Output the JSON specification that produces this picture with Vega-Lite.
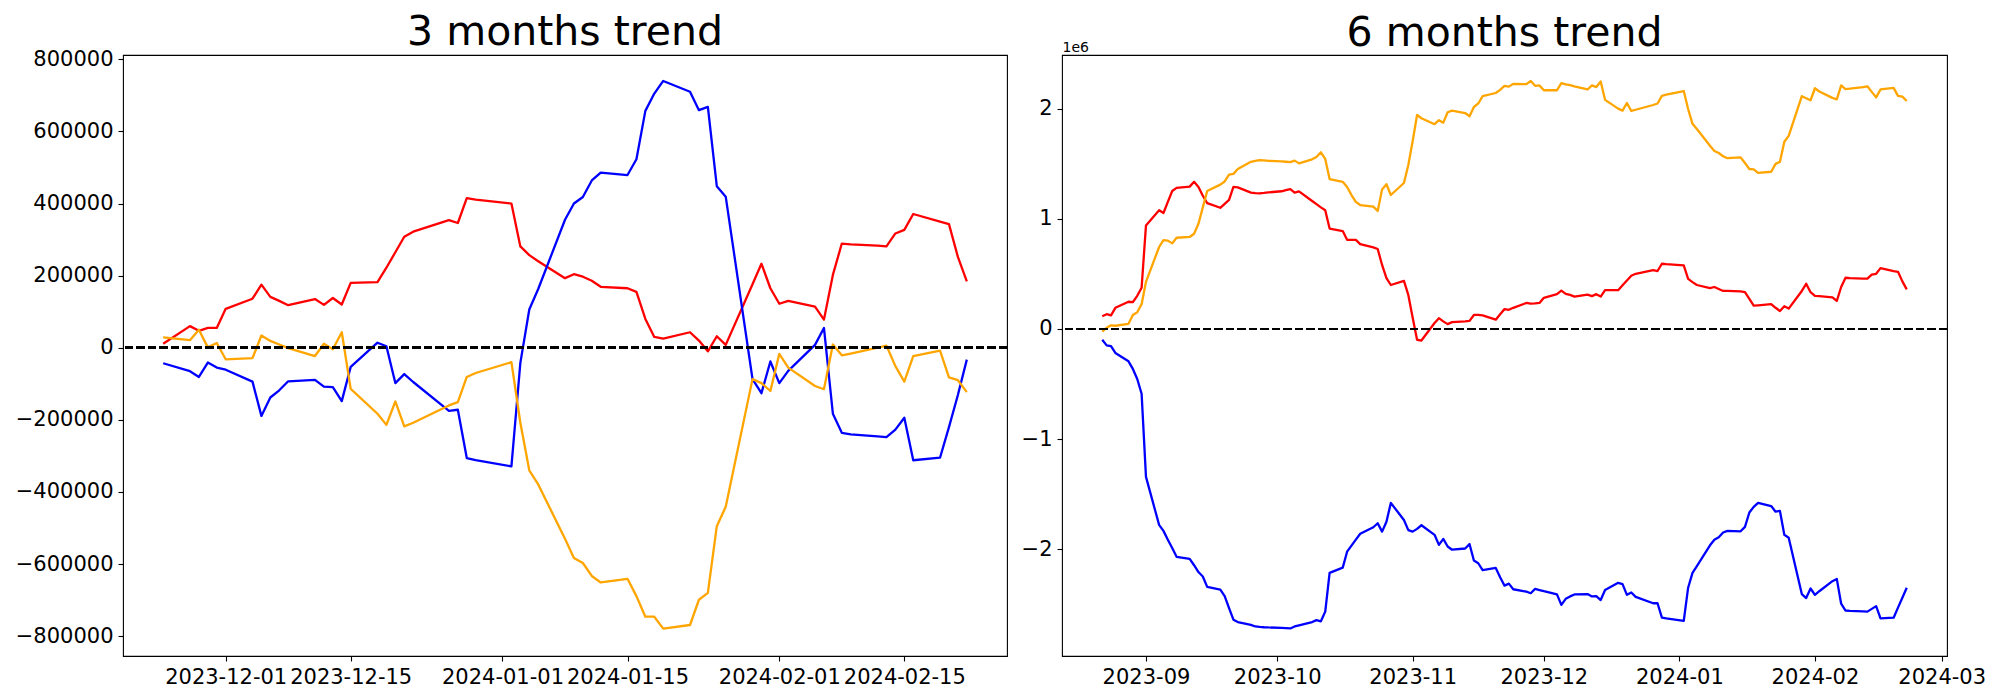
{
  "$schema": "https://vega.github.io/schema/vega-lite/v6.json",
  "background": "white",
  "padding": {"left": 14, "top": 11, "right": 5, "bottom": 5},
  "spacing": 55,
  "bounds": "flush",
  "config": {
    "font": "DejaVu Sans",
    "view": {"stroke": "black", "strokeWidth": 1.1},
    "axis": {"domain": false, "grid": false, "tickColor": "black", "tickSize": 5, "tickWidth": 1.1, "labelFontSize": 21, "labelFont": "DejaVu Sans", "labelColor": "black", "labelPadding": 5},
    "title": {"fontSize": 41, "font": "DejaVu Sans", "fontWeight": "normal", "color": "black", "anchor": "middle"}
  },
  "datasets": {
    "m3": [
      {"date":"2023-11-24","red":11000,"blue":-43000,"orange":29000},
      {"date":"2023-11-27","red":60000,"blue":-65000,"orange":21000},
      {"date":"2023-11-28","red":47000,"blue":-81000,"orange":50000},
      {"date":"2023-11-29","red":55000,"blue":-41000,"orange":1000},
      {"date":"2023-11-30","red":55000,"blue":-55000,"orange":13000},
      {"date":"2023-12-01","red":108000,"blue":-61000,"orange":-32000},
      {"date":"2023-12-04","red":136000,"blue":-94000,"orange":-29000},
      {"date":"2023-12-05","red":175000,"blue":-189000,"orange":34000},
      {"date":"2023-12-06","red":141000,"blue":-138000,"orange":19000},
      {"date":"2023-12-07","red":130000,"blue":-118000,"orange":9000},
      {"date":"2023-12-08","red":118000,"blue":-93000,"orange":-1000},
      {"date":"2023-12-11","red":135000,"blue":-89000,"orange":-23000},
      {"date":"2023-12-12","red":119000,"blue":-108000,"orange":11000},
      {"date":"2023-12-13","red":138000,"blue":-109000,"orange":-4000},
      {"date":"2023-12-14","red":120000,"blue":-148000,"orange":43000},
      {"date":"2023-12-15","red":180000,"blue":-53000,"orange":-114000},
      {"date":"2023-12-18","red":182000,"blue":14000,"orange":-183000},
      {"date":"2023-12-19","red":222000,"blue":4000,"orange":-214000},
      {"date":"2023-12-20","red":265000,"blue":-98000,"orange":-149000},
      {"date":"2023-12-21","red":308000,"blue":-73000,"orange":-218000},
      {"date":"2023-12-22","red":322000,"blue":-95000,"orange":-208000},
      {"date":"2023-12-26","red":354000,"blue":-175000,"orange":-160000},
      {"date":"2023-12-27","red":346000,"blue":-172000,"orange":-151000},
      {"date":"2023-12-28","red":415000,"blue":-306000,"orange":-81000},
      {"date":"2023-12-29","red":411000,"blue":-312000,"orange":-70000},
      {"date":"2024-01-02","red":400000,"blue":-329000,"orange":-40000},
      {"date":"2024-01-03","red":281000,"blue":-42000,"orange":-208000},
      {"date":"2024-01-04","red":257000,"blue":106000,"orange":-340000},
      {"date":"2024-01-05","red":240000,"blue":163000,"orange":-379000},
      {"date":"2024-01-08","red":193000,"blue":355000,"orange":-530000},
      {"date":"2024-01-09","red":204000,"blue":400000,"orange":-583000},
      {"date":"2024-01-10","red":197000,"blue":418000,"orange":-597000},
      {"date":"2024-01-11","red":186000,"blue":464000,"orange":-633000},
      {"date":"2024-01-12","red":169000,"blue":486000,"orange":-651000},
      {"date":"2024-01-15","red":165000,"blue":479000,"orange":-641000},
      {"date":"2024-01-16","red":155000,"blue":523000,"orange":-689000},
      {"date":"2024-01-17","red":80000,"blue":657000,"orange":-746000},
      {"date":"2024-01-18","red":30000,"blue":705000,"orange":-746000},
      {"date":"2024-01-19","red":25500,"blue":740000,"orange":-779000},
      {"date":"2024-01-22","red":43000,"blue":710000,"orange":-769000},
      {"date":"2024-01-23","red":20000,"blue":659000,"orange":-699000},
      {"date":"2024-01-24","red":-10000,"blue":668000,"orange":-680000},
      {"date":"2024-01-25","red":32000,"blue":448000,"orange":-495000},
      {"date":"2024-01-26","red":8000,"blue":419000,"orange":-441000},
      {"date":"2024-01-29","red":176000,"blue":-87000,"orange":-87000},
      {"date":"2024-01-30","red":233000,"blue":-126000,"orange":-98000},
      {"date":"2024-01-31","red":165000,"blue":-38000,"orange":-120000},
      {"date":"2024-02-01","red":122000,"blue":-98000,"orange":-17000},
      {"date":"2024-02-02","red":130000,"blue":-64000,"orange":-55000},
      {"date":"2024-02-05","red":114000,"blue":8000,"orange":-106000},
      {"date":"2024-02-06","red":78000,"blue":55000,"orange":-115000},
      {"date":"2024-02-07","red":202000,"blue":-183000,"orange":9000},
      {"date":"2024-02-08","red":289000,"blue":-236000,"orange":-21000},
      {"date":"2024-02-09","red":287000,"blue":-240000,"orange":-16000},
      {"date":"2024-02-12","red":283000,"blue":-246000,"orange":0},
      {"date":"2024-02-13","red":281000,"blue":-248000,"orange":6000},
      {"date":"2024-02-14","red":317000,"blue":-227000,"orange":-51000},
      {"date":"2024-02-15","red":327000,"blue":-194000,"orange":-94000},
      {"date":"2024-02-16","red":371000,"blue":-312000,"orange":-23000},
      {"date":"2024-02-19","red":350000,"blue":-305000,"orange":-8000},
      {"date":"2024-02-20","red":343000,"blue":-220000,"orange":-82000},
      {"date":"2024-02-21","red":252000,"blue":-131000,"orange":-90000},
      {"date":"2024-02-22","red":184000,"blue":-33000,"orange":-123000}
    ],
    "m6": [
      {"date":"2023-08-22","red":116000,"blue":-98000,"orange":-25000},
      {"date":"2023-08-23","red":134000,"blue":-149000,"orange":11000},
      {"date":"2023-08-24","red":123000,"blue":-156000,"orange":33000},
      {"date":"2023-08-25","red":192000,"blue":-218000,"orange":29000},
      {"date":"2023-08-28","red":247000,"blue":-294000,"orange":47000},
      {"date":"2023-08-29","red":243000,"blue":-363000,"orange":127000},
      {"date":"2023-08-30","red":301000,"blue":-454000,"orange":152000},
      {"date":"2023-08-31","red":374000,"blue":-588000,"orange":225000},
      {"date":"2023-09-01","red":940000,"blue":-1343000,"orange":428000},
      {"date":"2023-09-04","red":1078000,"blue":-1779000,"orange":744000},
      {"date":"2023-09-05","red":1053000,"blue":-1833000,"orange":806000},
      {"date":"2023-09-06","red":1154000,"blue":-1913000,"orange":802000},
      {"date":"2023-09-07","red":1252000,"blue":-1989000,"orange":777000},
      {"date":"2023-09-08","red":1281000,"blue":-2069000,"orange":828000},
      {"date":"2023-09-11","red":1292000,"blue":-2087000,"orange":835000},
      {"date":"2023-09-12","red":1336000,"blue":-2145000,"orange":864000},
      {"date":"2023-09-13","red":1289000,"blue":-2207000,"orange":955000},
      {"date":"2023-09-14","red":1209000,"blue":-2247000,"orange":1104000},
      {"date":"2023-09-15","red":1143000,"blue":-2341000,"orange":1252000},
      {"date":"2023-09-18","red":1100000,"blue":-2367000,"orange":1310000},
      {"date":"2023-09-19","red":1136000,"blue":-2425000,"orange":1339000},
      {"date":"2023-09-20","red":1172000,"blue":-2534000,"orange":1401000},
      {"date":"2023-09-21","red":1289000,"blue":-2639000,"orange":1408000},
      {"date":"2023-09-22","red":1285000,"blue":-2661000,"orange":1452000},
      {"date":"2023-09-25","red":1238000,"blue":-2687000,"orange":1517000},
      {"date":"2023-09-26","red":1234000,"blue":-2701000,"orange":1525000},
      {"date":"2023-09-27","red":1231000,"blue":-2705000,"orange":1532000},
      {"date":"2023-09-28","red":1235000,"blue":-2708000,"orange":1530000},
      {"date":"2023-09-29","red":1240000,"blue":-2710000,"orange":1526000},
      {"date":"2023-10-02","red":1250000,"blue":-2713000,"orange":1522000},
      {"date":"2023-10-03","red":1260000,"blue":-2716000,"orange":1518000},
      {"date":"2023-10-04","red":1270000,"blue":-2719000,"orange":1514000},
      {"date":"2023-10-05","red":1238000,"blue":-2701000,"orange":1528000},
      {"date":"2023-10-06","red":1249000,"blue":-2690000,"orange":1503000},
      {"date":"2023-10-09","red":1162000,"blue":-2661000,"orange":1540000},
      {"date":"2023-10-10","red":1133000,"blue":-2643000,"orange":1561000},
      {"date":"2023-10-11","red":1104000,"blue":-2654000,"orange":1604000},
      {"date":"2023-10-12","red":1078000,"blue":-2566000,"orange":1543000},
      {"date":"2023-10-13","red":911000,"blue":-2214000,"orange":1361000},
      {"date":"2023-10-16","red":889000,"blue":-2167000,"orange":1336000},
      {"date":"2023-10-17","red":809000,"blue":-2022000,"orange":1289000},
      {"date":"2023-10-18","red":809000,"blue":-1967000,"orange":1216000},
      {"date":"2023-10-19","red":809000,"blue":-1913000,"orange":1154000},
      {"date":"2023-10-20","red":770000,"blue":-1859000,"orange":1125000},
      {"date":"2023-10-23","red":741000,"blue":-1800000,"orange":1111000},
      {"date":"2023-10-24","red":726000,"blue":-1764000,"orange":1071000},
      {"date":"2023-10-25","red":581000,"blue":-1840000,"orange":1267000},
      {"date":"2023-10-26","red":461000,"blue":-1750000,"orange":1314000},
      {"date":"2023-10-27","red":399000,"blue":-1579000,"orange":1216000},
      {"date":"2023-10-30","red":436000,"blue":-1735000,"orange":1325000},
      {"date":"2023-10-31","red":309000,"blue":-1826000,"orange":1488000},
      {"date":"2023-11-01","red":102000,"blue":-1840000,"orange":1706000},
      {"date":"2023-11-02","red":-98000,"blue":-1815000,"orange":1942000},
      {"date":"2023-11-03","red":-105000,"blue":-1782000,"orange":1913000},
      {"date":"2023-11-06","red":54000,"blue":-1869000,"orange":1859000},
      {"date":"2023-11-07","red":98000,"blue":-1960000,"orange":1895000},
      {"date":"2023-11-08","red":69000,"blue":-1906000,"orange":1873000},
      {"date":"2023-11-09","red":44000,"blue":-1975000,"orange":1967000},
      {"date":"2023-11-10","red":62000,"blue":-2004000,"orange":1982000},
      {"date":"2023-11-13","red":69000,"blue":-1993000,"orange":1960000},
      {"date":"2023-11-14","red":73000,"blue":-1953000,"orange":1931000},
      {"date":"2023-11-15","red":127000,"blue":-2102000,"orange":2015000},
      {"date":"2023-11-16","red":127000,"blue":-2127000,"orange":2047000},
      {"date":"2023-11-17","red":123000,"blue":-2189000,"orange":2113000},
      {"date":"2023-11-20","red":84000,"blue":-2170000,"orange":2142000},
      {"date":"2023-11-21","red":134000,"blue":-2254000,"orange":2171000},
      {"date":"2023-11-22","red":180000,"blue":-2330000,"orange":2207000},
      {"date":"2023-11-23","red":174000,"blue":-2312000,"orange":2200000},
      {"date":"2023-11-24","red":192000,"blue":-2363000,"orange":2225000},
      {"date":"2023-11-27","red":236000,"blue":-2385000,"orange":2222000},
      {"date":"2023-11-28","red":229000,"blue":-2399000,"orange":2251000},
      {"date":"2023-11-29","red":232000,"blue":-2360000,"orange":2207000},
      {"date":"2023-11-30","red":236000,"blue":-2370000,"orange":2211000},
      {"date":"2023-12-01","red":283000,"blue":-2381000,"orange":2167000},
      {"date":"2023-12-04","red":316000,"blue":-2410000,"orange":2167000},
      {"date":"2023-12-05","red":348000,"blue":-2505000,"orange":2232000},
      {"date":"2023-12-06","red":319000,"blue":-2450000,"orange":2221000},
      {"date":"2023-12-07","red":309000,"blue":-2428000,"orange":2214000},
      {"date":"2023-12-08","red":294000,"blue":-2410000,"orange":2203000},
      {"date":"2023-12-11","red":312000,"blue":-2407000,"orange":2174000},
      {"date":"2023-12-12","red":298000,"blue":-2428000,"orange":2211000},
      {"date":"2023-12-13","red":316000,"blue":-2425000,"orange":2196000},
      {"date":"2023-12-14","red":294000,"blue":-2461000,"orange":2247000},
      {"date":"2023-12-15","red":352000,"blue":-2370000,"orange":2080000},
      {"date":"2023-12-18","red":352000,"blue":-2305000,"orange":2000000},
      {"date":"2023-12-19","red":396000,"blue":-2316000,"orange":1982000},
      {"date":"2023-12-20","red":439000,"blue":-2414000,"orange":2051000},
      {"date":"2023-12-21","red":483000,"blue":-2392000,"orange":1979000},
      {"date":"2023-12-22","red":501000,"blue":-2432000,"orange":1990000},
      {"date":"2023-12-26","red":534000,"blue":-2490000,"orange":2033000},
      {"date":"2023-12-27","red":526000,"blue":-2490000,"orange":2047000},
      {"date":"2023-12-28","red":592000,"blue":-2621000,"orange":2116000},
      {"date":"2023-12-29","red":588000,"blue":-2628000,"orange":2127000},
      {"date":"2024-01-02","red":577000,"blue":-2650000,"orange":2160000},
      {"date":"2024-01-03","red":454000,"blue":-2349000,"orange":1997000},
      {"date":"2024-01-04","red":425000,"blue":-2214000,"orange":1862000},
      {"date":"2024-01-05","red":399000,"blue":-2153000,"orange":1815000},
      {"date":"2024-01-08","red":370000,"blue":-1964000,"orange":1663000},
      {"date":"2024-01-09","red":381000,"blue":-1913000,"orange":1615000},
      {"date":"2024-01-10","red":363000,"blue":-1891000,"orange":1597000},
      {"date":"2024-01-11","red":345000,"blue":-1848000,"orange":1568000},
      {"date":"2024-01-12","red":345000,"blue":-1833000,"orange":1550000},
      {"date":"2024-01-15","red":341000,"blue":-1837000,"orange":1558000},
      {"date":"2024-01-16","red":334000,"blue":-1797000,"orange":1506000},
      {"date":"2024-01-17","red":272000,"blue":-1666000,"orange":1452000},
      {"date":"2024-01-18","red":211000,"blue":-1615000,"orange":1448000},
      {"date":"2024-01-19","red":214000,"blue":-1579000,"orange":1416000},
      {"date":"2024-01-22","red":225000,"blue":-1608000,"orange":1427000},
      {"date":"2024-01-23","red":192000,"blue":-1659000,"orange":1499000},
      {"date":"2024-01-24","red":163000,"blue":-1652000,"orange":1517000},
      {"date":"2024-01-25","red":207000,"blue":-1869000,"orange":1699000},
      {"date":"2024-01-26","red":185000,"blue":-1895000,"orange":1753000},
      {"date":"2024-01-29","red":345000,"blue":-2407000,"orange":2113000},
      {"date":"2024-01-30","red":410000,"blue":-2443000,"orange":2094000},
      {"date":"2024-01-31","red":334000,"blue":-2356000,"orange":2076000},
      {"date":"2024-02-01","red":301000,"blue":-2414000,"orange":2185000},
      {"date":"2024-02-02","red":298000,"blue":-2381000,"orange":2156000},
      {"date":"2024-02-05","red":287000,"blue":-2290000,"orange":2098000},
      {"date":"2024-02-06","red":254000,"blue":-2269000,"orange":2084000},
      {"date":"2024-02-07","red":381000,"blue":-2494000,"orange":2211000},
      {"date":"2024-02-08","red":465000,"blue":-2556000,"orange":2178000},
      {"date":"2024-02-09","red":461000,"blue":-2559000,"orange":2181000},
      {"date":"2024-02-12","red":457000,"blue":-2563000,"orange":2196000},
      {"date":"2024-02-13","red":457000,"blue":-2566000,"orange":2203000},
      {"date":"2024-02-14","red":494000,"blue":-2541000,"orange":2152000},
      {"date":"2024-02-15","red":501000,"blue":-2516000,"orange":2102000},
      {"date":"2024-02-16","red":552000,"blue":-2628000,"orange":2174000},
      {"date":"2024-02-19","red":526000,"blue":-2621000,"orange":2189000},
      {"date":"2024-02-20","red":519000,"blue":-2530000,"orange":2116000},
      {"date":"2024-02-21","red":432000,"blue":-2440000,"orange":2109000},
      {"date":"2024-02-22","red":359000,"blue":-2349000,"orange":2069000}
    ]
  },
  "hconcat": [
    {
      "width": 884,
      "height": 601,
      "title": {"text": "3 months trend", "offset": -6},
      "data": {"name": "m3"},
      "transform": [{"fold": ["red", "blue", "orange"], "as": ["series", "value"]}],
      "layer": [
        {
          "mark": {"type": "line", "strokeWidth": 2.3, "strokeJoin": "round"},
          "encoding": {
            "x": {"field": "date", "type": "temporal", "title": null,
                  "scale": {"type": "utc", "domain": [{"year": 2023, "month": 11, "date": 19, "hours": 12, "utc": true}, {"year": 2024, "month": 2, "date": 26, "hours": 12, "utc": true}]},
                  "axis": {"values": [{"year": 2023, "month": 12, "date": 1, "utc": true}, {"year": 2023, "month": 12, "date": 15, "utc": true}, {"year": 2024, "month": 1, "date": 1, "utc": true}, {"year": 2024, "month": 1, "date": 15, "utc": true}, {"year": 2024, "month": 2, "date": 1, "utc": true}, {"year": 2024, "month": 2, "date": 15, "utc": true}],
                           "labelExpr": "utcFormat(datum.value, '%Y-%m-%d')", "labelFlush": false, "labelOverlap": false}},
            "y": {"field": "value", "type": "quantitative", "title": null,
                  "scale": {"domain": [-855000, 812000], "nice": false, "zero": false},
                  "axis": {"values": [-800000, -600000, -400000, -200000, 0, 200000, 400000, 600000, 800000],
                           "labelExpr": "datum.value < 0 ? '\u2212' + format(-datum.value, 'd') : format(datum.value, 'd')", "labelOverlap": false}},
            "color": {"field": "series", "type": "nominal", "legend": null,
                      "scale": {"domain": ["red", "blue", "orange"], "range": ["#ff0000", "#0000ff", "#ffa500"]}}
          }
        },
        {
          "mark": {"type": "rule", "color": "black", "strokeWidth": 2.1, "strokeDash": [8, 3.5]},
          "encoding": {"y": {"datum": 0}}
        }
      ]
    },
    {
      "width": 885,
      "height": 601,
      "title": {"text": "6 months trend", "offset": -15},
      "data": {"name": "m6"},
      "transform": [{"fold": ["red", "blue", "orange"], "as": ["series", "value"]}],
      "layer": [
        {
          "mark": {"type": "line", "strokeWidth": 2.3, "strokeJoin": "round"},
          "encoding": {
            "x": {"field": "date", "type": "temporal", "title": null,
                  "scale": {"type": "utc", "domain": [{"year": 2023, "month": 8, "date": 12, "hours": 19, "utc": true}, {"year": 2024, "month": 3, "date": 2, "hours": 5, "utc": true}]},
                  "axis": {"values": [{"year": 2023, "month": 9, "date": 1, "utc": true}, {"year": 2023, "month": 10, "date": 1, "utc": true}, {"year": 2023, "month": 11, "date": 1, "utc": true}, {"year": 2023, "month": 12, "date": 1, "utc": true}, {"year": 2024, "month": 1, "date": 1, "utc": true}, {"year": 2024, "month": 2, "date": 1, "utc": true}, {"year": 2024, "month": 3, "date": 1, "utc": true}],
                           "labelExpr": "utcFormat(datum.value, '%Y-%m')", "labelFlush": false, "labelOverlap": false}},
            "y": {"field": "value", "type": "quantitative",
                  "scale": {"domain": [-2969000, 2487000], "nice": false, "zero": false},
                  "axis": {"values": [-2000000, -1000000, 0, 1000000, 2000000],
                           "labelExpr": "datum.value < 0 ? '\u2212' + format(-datum.value / 1000000, 'd') : format(datum.value / 1000000, 'd')", "labelOverlap": false,
                           "title": "1e6", "titleAngle": 0, "titleAlign": "left", "titleBaseline": "alphabetic", "titleX": 0, "titleY": -4,
                           "titleFontSize": 14, "titleFontWeight": "normal", "titleColor": "black", "titleFont": "DejaVu Sans"}},
            "color": {"field": "series", "type": "nominal", "legend": null,
                      "scale": {"domain": ["red", "blue", "orange"], "range": ["#ff0000", "#0000ff", "#ffa500"]}}
          }
        },
        {
          "mark": {"type": "rule", "color": "black", "strokeWidth": 2.1, "strokeDash": [8, 3.5]},
          "encoding": {"y": {"datum": 0}}
        }
      ]
    }
  ]
}
